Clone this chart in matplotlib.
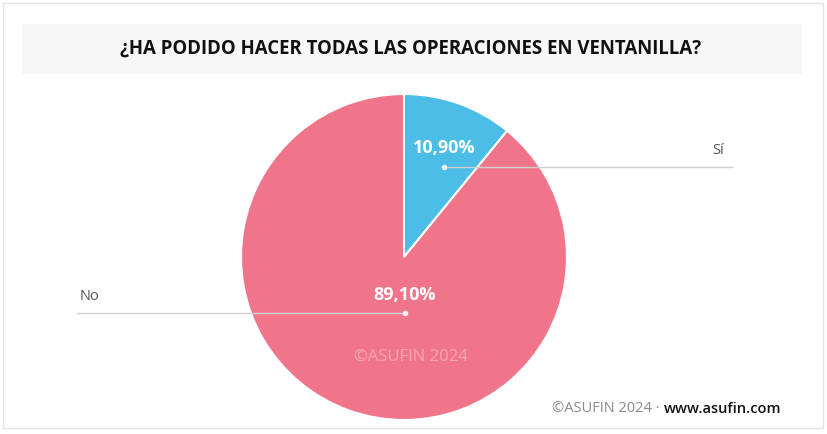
import matplotlib.pyplot as plt
from matplotlib.patches import Rectangle

labels = ["Sí", "No"]
values = [10.90, 89.10]
colors = ["#4bbde6", "#f0758a"]
pct_text = ["10,90%", "89,10%"]
title = "¿HA PODIDO HACER TODAS LAS OPERACIONES EN VENTANILLA?"

W, H = 827, 434
plt.rcParams['font.family'] = ['Open Sans', 'DejaVu Sans']

fig = plt.figure(figsize=(W / 100, H / 100), dpi=100)
ax = fig.add_axes([0, 0, 1, 1])

def yy(y):  # pixel row -> data y
    return H - y

# pie
cx, cy, r = 404, yy(257), 163
ax.pie(values, colors=colors, startangle=90, counterclock=False,
       center=(cx, cy), radius=r, frame=True,
       wedgeprops=dict(edgecolor="white", linewidth=1.5))
ax.set_xlim(0, W)
ax.set_ylim(0, H)
ax.set_aspect("equal")
ax.axis("off")

# frame and title band
ax.add_patch(Rectangle((3, yy(428)), 820, 425, facecolor="none", edgecolor="#e4e4e4", lw=1))
ax.add_patch(Rectangle((22, yy(74)), 780, 50, facecolor="#f7f7f7", edgecolor="none"))
ax.text(411, yy(49), title, ha="center", va="center", fontsize=13.4, fontweight="bold", color="#111111")

# label leader lines: (dot x, dot y, line end x, label x, label y, ha)
leaders = [
    (444, 167, 732, 724, 150, "right"),
    (405, 313, 77, 80, 297, "left"),
]
pct_pos = [(444, 148), (405, 295)]
for (dx, dy, ex, lx, ly, ha), (px, py), lab, pt in zip(leaders, pct_pos, labels, pct_text):
    ax.plot([dx, ex], [yy(dy), yy(dy)], color="#cfcfcf", lw=1, zorder=5)
    ax.plot(dx, yy(dy), "o", ms=3, color="#f2f2f2", zorder=6)
    ax.text(px, yy(py), pt, ha="center", va="center", fontsize=13, fontweight="bold", color="white", zorder=7)
    ax.text(lx, yy(ly), lab, ha=ha, va="center", fontsize=10.5, color="#555555")

# watermark
ax.text(411, yy(357), "©ASUFIN 2024", ha="center", va="center", fontsize=12,
        color="white", alpha=0.35, zorder=7)

# footer
t2 = ax.text(781, yy(409), "www.asufin.com", ha="right", va="center", fontsize=10.5,
             fontweight="semibold", color="#111111")
ax.annotate("©ASUFIN 2024 · ", xy=(0, 0.5), xycoords=t2, ha="right", va="center",
            fontsize=10.5, color="#8a8a8a")

fig.savefig("out.png", dpi=100)
